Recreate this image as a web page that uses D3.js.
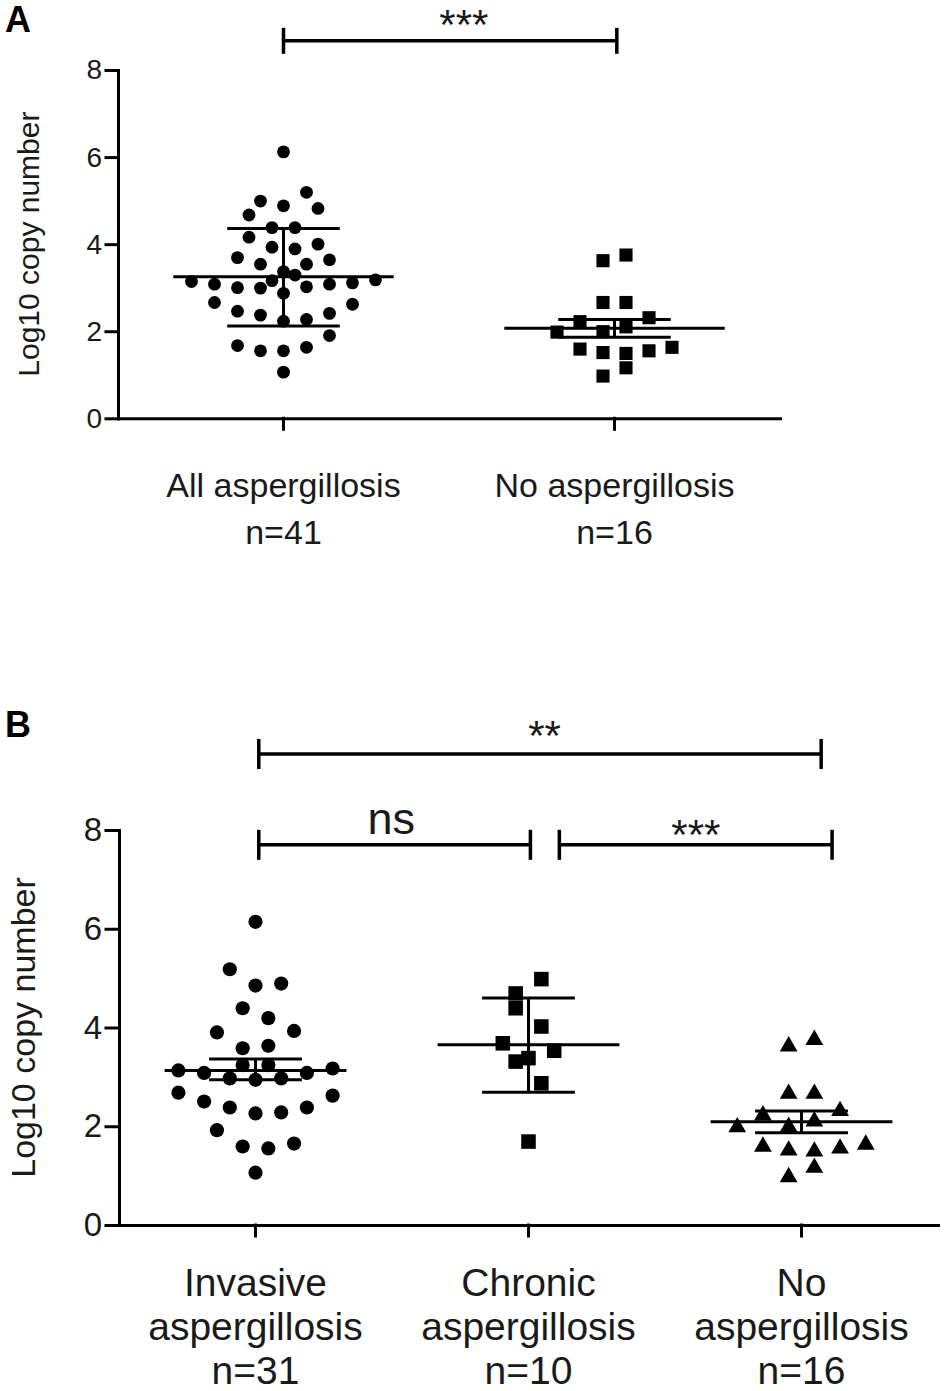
<!DOCTYPE html>
<html lang="en">
<head>
<meta charset="UTF-8" />
<title>Log10 copy number by aspergillosis group</title>
<script src="https://d3js.org/d3.v7.min.js"></script>
<style>
    body {
        margin: 0;
        background: #fff;
    }
    svg text {
        font-family: "Liberation Sans", Arial, sans-serif;
        fill: #1a1a1a;
    }
</style>
</head>
<body>
<svg id="chart" width="950" height="1391"></svg>
<script>
    // ---- data ----
    var yTicks = [0, 2, 4, 6, 8];

    // Panel A
    var catsA = [["All aspergillosis"], ["No aspergillosis"]];
    var countsA = ["n=41", "n=16"];
    var allAspValues = [6.12, 5.19, 4.99, 4.88, 4.82, 4.67, 4.38, 4.38, 4.16, 3.93,
                        3.89, 4.00, 3.69, 3.54, 3.54, 3.64, 3.37, 3.29, 3.16, 3.14,
                        3.08, 3.00, 2.99, 3.02, 3.08, 3.11, 3.18, 2.87, 2.66, 2.62,
                        2.46, 2.37, 2.23, 2.27, 2.41, 1.90, 1.67, 1.55, 1.55, 1.63, 1.06];
    // horizontal slot of each point in the swarm (0 = column centre)
    var allAspSlots = [0, 2, -2, 0, 3, -3, -1, 1, -3, -1,
                       1, 3, -4, -2, 2, 4, 0, 1, -1, -8,
                       -6, -4, -2, 2, 4, 6, 8, 0, -6, 6,
                       -4, -2, 0, 2, 4, 4, -4, -2, 0, 2, 0];
    var noAspValues = [3.62, 3.75, 2.66, 2.66, 2.22, 2.31, 1.98, 1.99,
                       2.10, 1.59, 1.51, 1.49, 1.55, 1.63, 0.97, 1.16];
    var noAspSlots = [-1, 1, -1, 1, -3, 3, -5, -1, 1, -3, -1, 1, 3, 5, -1, 1];
    var centreA = [3.25, 2.07];
    var errHighA = [4.36, 2.27];
    var errLowA = [2.12, 1.86];
    // [from, to, level, label, labelX, labelLevel]  (x in category index)
    var bracketsA = [[0, 1.007, 8.67, "***", 0.545, 9.26]];

    // Panel B
    var catsB = [["Invasive", "aspergillosis"], ["Chronic", "aspergillosis"], ["No", "aspergillosis"]];
    var countsB = ["n=31", "n=10", "n=16"];
    var invasiveValues = [6.14, 5.18, 4.85, 4.89, 4.39, 4.19, 3.90, 3.93, 3.58, 3.63,
                          3.13, 3.08, 3.17, 3.08, 3.24, 3.24, 2.97, 2.94, 2.97, 2.68,
                          2.62, 2.50, 2.38, 2.26, 2.28, 2.38, 1.92, 1.59, 1.55, 1.65, 1.06];
    var invasiveSlots = [0, -2, 0, 2, -1, 1, -3, 3, -1, 1,
                         -6, -4, 6, 4, -1, 1, -2, 0, 2, -6,
                         6, -4, -2, 0, 2, 4, -3, -1, 1, 3, 0];
    var chronicValues = [4.98, 4.69, 4.39, 4.02, 3.68, 3.53, 3.31, 3.38, 2.87, 1.69];
    var chronicSlots = [1, -1, -1, 1, -2, 2, -1, 0, 1, 0];
    var centreB = [3.13, 3.65, 2.09];
    var errHighB = [3.36, 4.60, 2.31];
    var errLowB = [2.94, 2.69, 1.87];
    var bracketsB = [[0.012, 2.072, 9.54, "**", 1.059, 10.10],
                     [0.012, 1.007, 7.70, "ns", 0.497, 8.15],
                     [1.113, 2.112, 7.70, "***", 1.613, 8.11]];

    var svg = d3.select("#chart");

    // Function to draw one scatter panel
    function drawPanel(p) {
        var g = svg.append("g");

        var x = d3.scaleBand()
            .domain(d3.range(p.cats.length))
            .range([p.left, p.right]);
        var bw = x.bandwidth();
        var centre = function (i) { return x(i) + bw / 2; };

        var y = d3.scaleLinear()
            .domain([0, 8])
            .range([p.bottom, p.top]);

        var slot = d3.scaleLinear().domain([0, 1]).range([0, p.slotPx]);
        var idx = d3.scaleLinear().domain([0, 1]).range([centre(0), centre(1)]);

        // Axes
        var yAxis = g.append("g")
            .attr("transform", "translate(" + p.left + ",0)")
            .call(d3.axisLeft(y).tickValues(yTicks).tickSize(p.tickLen).tickSizeOuter(0).tickPadding(4));
        yAxis.selectAll("text").style("font-size", p.tickFont + "px");

        g.append("g")
            .attr("transform", "translate(0," + p.bottom + ")")
            .call(d3.axisBottom(x).tickSize(11).tickSizeOuter(0).tickFormat(""));

        g.selectAll(".domain, .tick line")
            .attr("stroke", "#000")
            .attr("stroke-width", 3)
            .attr("stroke-linecap", "square");

        // Y title
        g.append("text")
            .attr("transform", "translate(" + p.titleX + "," + y(4) + ") rotate(-90)")
            .attr("text-anchor", "middle")
            .style("font-size", p.titleFont + "px")
            .text("Log10 copy number");

        // Category labels
        p.cats.forEach(function (lines, i) {
            var t = g.append("text")
                .attr("text-anchor", "middle")
                .style("font-size", p.catFont + "px");
            lines.concat([p.counts[i]]).forEach(function (s, k) {
                t.append("tspan")
                    .attr("x", centre(i))
                    .attr("y", p.bottom + p.catOffset + k * p.catLine)
                    .text(s);
            });
        });

        // Points
        p.groups.forEach(function (grp, i) {
            var pts = grp.values.map(function (v, k) { return { v: v, s: grp.slots[k] }; });
            var sel = g.append("g").selectAll("path")
                .data(pts)
                .enter()
                .append("path")
                .attr("transform", function (d) {
                    return "translate(" + (centre(i) + slot(d.s)) + "," + y(d.v) + ")";
                })
                .attr("fill", "#000");
            if (grp.shape === "circle") {
                sel.attr("d", d3.symbol().type(d3.symbolCircle).size(Math.PI * p.marker * p.marker / 4));
            } else if (grp.shape === "square") {
                sel.attr("d", d3.symbol().type(d3.symbolSquare).size(p.marker * p.marker * 1.05));
            } else {
                sel.attr("d", d3.symbol().type(d3.symbolTriangle).size(p.marker * p.marker * 0.68));
            }
        });

        // Mean and error bars
        p.centre.forEach(function (m, i) {
            var c = centre(i);
            var w1 = bw * 0.333, w2 = bw * 0.17;
            var lines = [
                [c - w1, y(m), c + w1, y(m)],
                [c - w2, y(p.errHigh[i]), c + w2, y(p.errHigh[i])],
                [c - w2, y(p.errLow[i]), c + w2, y(p.errLow[i])],
                [c, y(p.errHigh[i]), c, y(p.errLow[i])]
            ];
            g.append("g").selectAll("line")
                .data(lines)
                .enter()
                .append("line")
                .attr("x1", function (d) { return d[0]; })
                .attr("y1", function (d) { return d[1]; })
                .attr("x2", function (d) { return d[2]; })
                .attr("y2", function (d) { return d[3]; })
                .attr("stroke", "#000")
                .attr("stroke-width", 3);
        });

        // Significance brackets
        p.brackets.forEach(function (b) {
            var x1 = idx(b[0]), x2 = idx(b[1]), yy = y(b[2]);
            var bg = g.append("g").attr("stroke", "#000").attr("stroke-width", 3.5);
            bg.append("line").attr("x1", x1).attr("x2", x2).attr("y1", yy).attr("y2", yy);
            bg.append("line").attr("x1", x1).attr("x2", x1).attr("y1", yy - p.capH).attr("y2", yy + p.capH);
            bg.append("line").attr("x1", x2).attr("x2", x2).attr("y1", yy - p.capH).attr("y2", yy + p.capH);

            var isStars = b[3].charAt(0) === "*";
            var fs = isStars ? 42 : 45;
            g.append("text")
                .attr("x", idx(b[4]))
                .attr("y", y(b[5]) + (isStars ? 0.57 : 0.26) * fs)
                .attr("text-anchor", "middle")
                .style("font-size", fs + "px")
                .text(b[3]);
        });

        // Panel letter
        svg.append("text")
            .attr("x", 5)
            .attr("y", p.letterY)
            .style("font-size", "36px")
            .style("font-weight", "bold")
            .style("fill", "#000")
            .text(p.letter);
    }

    drawPanel({
        letter: "A", letterY: 32,
        cats: catsA, counts: countsA,
        left: 118, right: 780, top: 70, bottom: 418.3,
        slotPx: 11.5, marker: 12.8,
        tickLen: 12, tickFont: 28, titleFont: 30, titleX: 39,
        catFont: 34, catOffset: 79, catLine: 47,
        groups: [
            { values: allAspValues, slots: allAspSlots, shape: "circle" },
            { values: noAspValues, slots: noAspSlots, shape: "square" }
        ],
        centre: centreA, errHigh: errHighA, errLow: errLowA,
        brackets: bracketsA, capH: 13
    });

    drawPanel({
        letter: "B", letterY: 737,
        cats: catsB, counts: countsB,
        left: 119, right: 938, top: 830, bottom: 1225,
        slotPx: 12.85, marker: 14.2,
        tickLen: 13, tickFont: 33, titleFont: 34, titleX: 35,
        catFont: 39, catOffset: 71, catLine: 44,
        groups: [
            { values: invasiveValues, slots: invasiveSlots, shape: "circle" },
            { values: chronicValues, slots: chronicSlots, shape: "square" },
            { values: noAspValues, slots: noAspSlots, shape: "triangle" }
        ],
        centre: centreB, errHigh: errHighB, errLow: errLowB,
        brackets: bracketsB, capH: 15
    });
</script>
</body>
</html>
